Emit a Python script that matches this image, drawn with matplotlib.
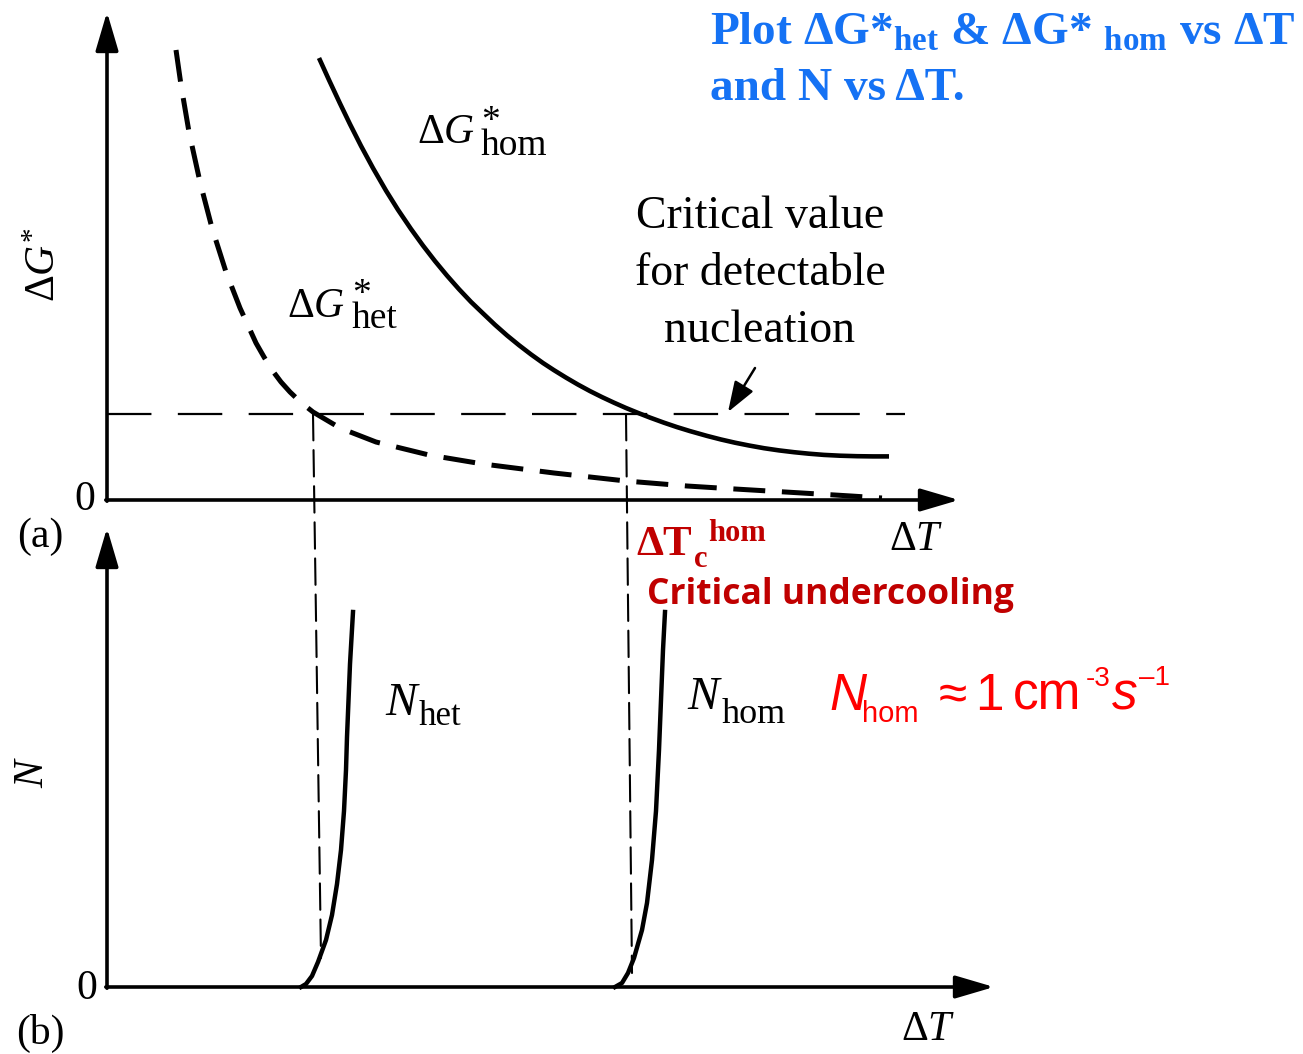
import matplotlib
matplotlib.use("Agg")
import matplotlib.pyplot as plt
from matplotlib.patches import ConnectionPatch

plt.rcParams['mathtext.fontset'] = 'custom'
plt.rcParams['mathtext.rm'] = 'Liberation Serif'
plt.rcParams['mathtext.it'] = 'Liberation Serif:italic'
plt.rcParams['mathtext.bf'] = 'Liberation Serif:bold'
plt.rcParams['font.family'] = 'Liberation Serif'
plt.rcParams['lines.scale_dashes'] = False

# (a) activation barrier vs undercooling (arbitrary units)
dT_hom = [2.12, 2.22, 2.33, 2.43, 2.54, 2.66, 2.79, 2.91, 3.04, 3.16,
          3.28, 3.40, 3.52, 3.64, 3.76, 3.88, 4.00, 4.12, 4.24, 4.36,
          4.47, 4.59, 4.71, 4.83, 4.95, 5.07, 5.19, 5.31, 5.43, 5.57,
          5.70, 5.83, 6.00, 6.14, 6.28, 6.42, 6.57, 6.72, 6.87, 7.02,
          7.17, 7.33, 7.50, 7.66, 7.82]
dG_hom = [4.42, 4.20, 3.965, 3.758, 3.541, 3.319, 3.094, 2.902, 2.710, 2.544,
          2.389, 2.244, 2.108, 1.981, 1.866, 1.752, 1.646, 1.548, 1.456, 1.370,
          1.298, 1.224, 1.154, 1.089, 1.029, 0.973, 0.920, 0.871, 0.824, 0.773,
          0.729, 0.689, 0.641, 0.605, 0.573, 0.545, 0.518, 0.496, 0.478, 0.463,
          0.451, 0.443, 0.438, 0.436, 0.436]
dT_het = [0.69, 0.74, 0.82, 0.93, 1.05, 1.19, 1.33, 1.49, 1.57, 1.65, 1.74, 1.83,
          1.94, 2.06, 2.33, 2.69, 3.22, 3.76, 4.47, 5.19, 5.80, 6.28, 6.95, 7.44, 7.75]
dG_het = [4.50, 4.15, 3.68, 3.18, 2.72, 2.28, 1.92, 1.57, 1.43, 1.30, 1.18, 1.08,
          0.975, 0.88, 0.72, 0.58, 0.45, 0.36, 0.27, 0.19, 0.14, 0.11, 0.07, 0.04, 0.02]
dG_crit = 0.86
dT_crit_end = 7.98

# (b) nucleation rate vs undercooling
dT_nhet = [1.94, 1.99, 2.05, 2.11, 2.19, 2.25, 2.30, 2.34, 2.37, 2.39, 2.40, 2.43, 2.46]
N_het = [0.0, 0.03, 0.11, 0.25, 0.47, 0.72, 1.03, 1.37, 1.76, 2.17, 2.50, 3.23, 3.75]
dT_nhom = [5.08, 5.15, 5.21, 5.27, 5.35, 5.40, 5.45, 5.49, 5.52, 5.54, 5.56, 5.58]
N_hom = [0.0, 0.04, 0.14, 0.29, 0.57, 0.84, 1.27, 1.76, 2.37, 2.87, 3.37, 3.75]

# where the critical line meets each curve, and where the drop lines end in (b)
dT_c = [2.06, 5.19]
drop_end_dT = [2.14, 5.25]
drop_end_N = [0.29, 0.14]

W, H = 1303, 1054


def fxy(x, y):
    return x / W, 1 - y / H


def put(x, y, s, fs, **kw):
    kw.setdefault('color', 'k')
    kw.setdefault('ha', 'left')
    kw.setdefault('va', 'baseline')
    return fig.text(*fxy(x, y), s, fontsize=fs, **kw)


fig = plt.figure(figsize=(W / 100, H / 100), dpi=100)
ax_a = fig.add_axes([0, 1 - 515 / H, 1, 515 / H])
ax_b = fig.add_axes([0, 0, 1, 539 / H])
for ax in (ax_a, ax_b):
    ax.set_xlim(-1.07, 11.96)
    ax.axis('off')
    ax.patch.set_alpha(0)
ax_a.set_ylim(-0.15, 5.0)
ax_b.set_ylim(-0.67, 4.72)

axis_arrow = dict(arrowstyle='-|>,head_length=0.95,head_width=0.28', mutation_scale=25,
                  lw=2.6, color='k', shrinkA=0, shrinkB=0)
ax_a.annotate('', xy=(0, 4.88), xytext=(0, -0.012), arrowprops=axis_arrow)
ax_a.annotate('', xy=(8.52, 0), xytext=(-0.012, 0), arrowprops=axis_arrow)
ax_b.annotate('', xy=(0, 4.59), xytext=(0, -0.012), arrowprops=axis_arrow)
ax_b.annotate('', xy=(8.87, 0), xytext=(-0.012, 0), arrowprops=axis_arrow)

ax_a.plot(dT_hom, dG_hom, color='k', lw=3.3, solid_capstyle='butt', solid_joinstyle='round')
ax_a.plot(dT_het, dG_het, color='k', lw=3.6, dashes=(23, 12), dash_capstyle='butt',
          dash_joinstyle='round')
ax_a.plot([0, dT_crit_end], [dG_crit, dG_crit], color='k', lw=1.6, dashes=(32, 19))

ax_b.plot(dT_nhet, N_het, color='k', lw=3.2, solid_joinstyle='round')
ax_b.plot(dT_nhom, N_hom, color='k', lw=3.2, solid_joinstyle='round')

for x0, x1, y1 in zip(dT_c, drop_end_dT, drop_end_N):
    con = ConnectionPatch(xyA=(x0, dG_crit), coordsA='data', axesA=ax_a,
                          xyB=(x1, y1), coordsB='data', axesB=ax_b,
                          color='k', lw=1.5, linestyle=(0, (19, 7)))
    fig.add_artist(con)

ax_a.annotate('', xy=(6.21, 0.88), xytext=(6.48, 1.32),
              arrowprops=dict(arrowstyle='-|>,head_length=0.85,head_width=0.3',
                              mutation_scale=22, lw=1.8, color='k',
                              shrinkA=0, shrinkB=0))

# black labels
put(45, 265, r'$\Delta G^{*}$', 30, rotation=90, ha='center', va='center')
put(85, 500, '0', 30, ha='center', va='center')
put(40, 537, '(a)', 30, ha='center', va='center')

put(417, 143, r'$\Delta G$', 30)
put(481, 155, '*\nhom', 27, linespacing=0.62, multialignment='left')
put(287, 317, r'$\Delta G$', 30)
put(352, 328, '*\nhet', 27, linespacing=0.62, multialignment='left')

put(760, 342, 'Critical value\nfor detectable\nnucleation', 33,
    ha='center', linespacing=1.45, multialignment='center')
put(916, 540, r'$\Delta T$', 30, ha='center', va='center')

put(33, 772, r'$N$', 30, rotation=90, ha='center', va='center')
put(87, 989, '0', 30, ha='center', va='center')
put(40, 1033, '(b)', 30, ha='center', va='center')
put(928, 1030, r'$\Delta T$', 30, ha='center', va='center')

put(385, 715, 'N', 34, style='italic')
put(419, 725, 'het', 25)
put(687, 709, 'N', 34, style='italic')
put(722, 723, 'hom', 26)

# title (blue)
blue = '#1572F4'
put(710, 45, r'Plot ΔG*$_{\mathbf{het}}$ & ΔG* $_{\mathbf{hom}}$ vs ΔT', 34,
    fontweight='bold', color=blue)
put(710, 100, 'and N vs ΔT.', 34, fontweight='bold', color=blue)

# dark red annotation
dred = '#C00000'
put(636, 555, 'ΔT', 31, fontweight='bold', color=dred)
put(694, 567, 'c', 22, fontweight='bold', color=dred)
put(708, 541, 'hom', 22, fontweight='bold', color=dred)
put(647, 604, 'Critical undercooling', 25.5, fontweight='bold',
    family='Open Sans', color=dred)

# red formula
red = '#FF0000'
sans = 'Liberation Sans'
pieces = [
    (829, 710, 'N', 37, 'italic'),
    (862, 722, 'hom', 21, 'normal'),
    (939, 710, '≈', 37, 'normal'),
    (975, 710, '1', 37, 'normal'),
    (1013, 710, 'cm', 37, 'normal'),
    (1086, 686, '-3', 20, 'normal'),
    (1112, 710, 's', 37, 'italic'),
    (1139, 685, '–1', 20, 'normal'),
]
for x, y, s, fs, st in pieces:
    put(x, y, s, fs, style=st, family=sans, color=red)

fig.savefig('out.png', dpi=100)
